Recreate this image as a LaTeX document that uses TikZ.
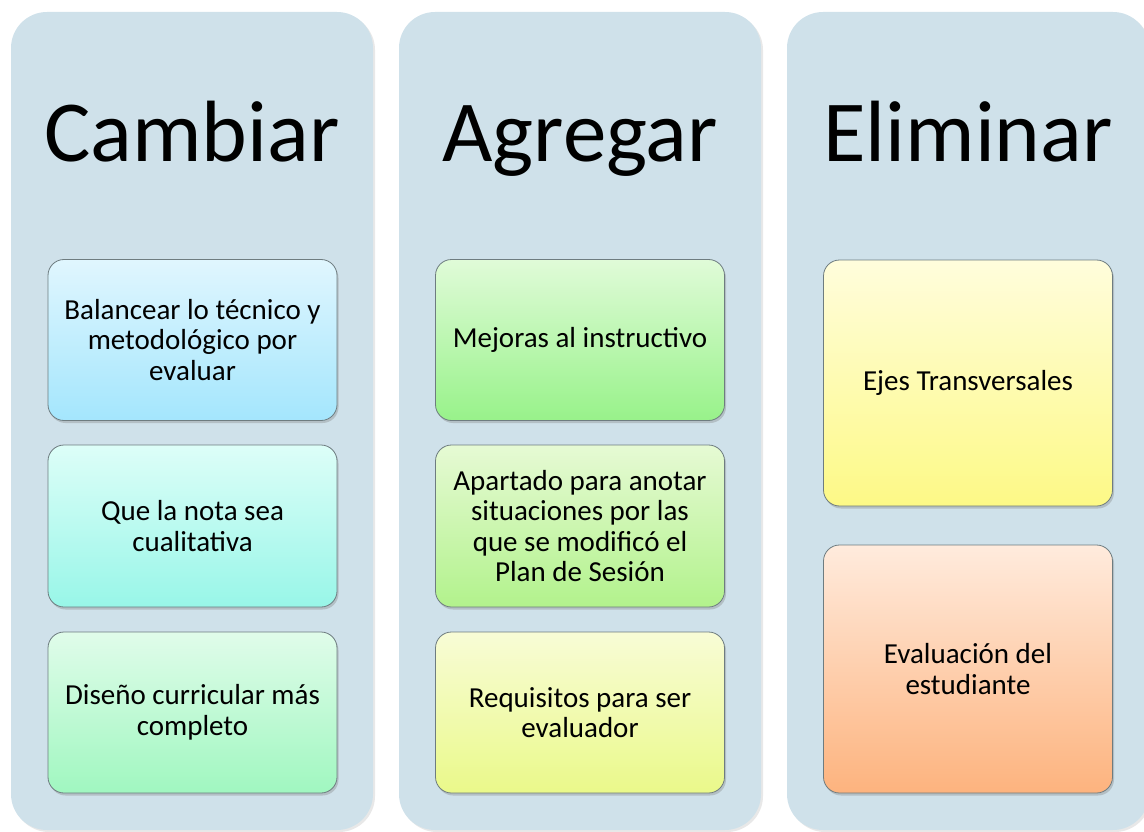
\documentclass[tikz,border=0pt]{standalone}
\usepackage{fontspec}
\setmainfont{Carlito}
\usetikzlibrary{shadows}
\definecolor{panel}{HTML}{CFE1EA}
\definecolor{boxline}{HTML}{6E7C80}
\definecolor{cAt}{HTML}{E0F6FE}\definecolor{cAb}{HTML}{A4E6FD}
\definecolor{cBt}{HTML}{DDFEF8}\definecolor{cBb}{HTML}{98F6E8}
\definecolor{cCt}{HTML}{E0FCEA}\definecolor{cCb}{HTML}{A0F7C0}
\definecolor{aAt}{HTML}{E0FBD8}\definecolor{aAb}{HTML}{98F28A}
\definecolor{aBt}{HTML}{E6FAD4}\definecolor{aBb}{HTML}{B2F28C}
\definecolor{aCt}{HTML}{F8FCD6}\definecolor{aCb}{HTML}{EAF98A}
\definecolor{eAt}{HTML}{FFFDDC}\definecolor{eAb}{HTML}{FDF986}
\definecolor{eBt}{HTML}{FFEBDD}\definecolor{eBb}{HTML}{FDB37E}
\begin{document}
\begin{tikzpicture}[x=1pt,y=-1pt,
  panelbox/.style={fill=panel, rounded corners=36pt, minimum width=362pt,
    minimum height=818pt, inner sep=0pt,
    drop shadow={opacity=0.18, shadow xshift=2pt, shadow yshift=-2pt}},
  itembox/.style={draw=boxline, line width=0.8pt, rounded corners=16pt,
    minimum width=289pt, inner sep=0pt, align=center,
    font=\fontsize{29}{30.5}\selectfont,
    drop shadow={opacity=0.35, shadow xshift=1.5pt, shadow yshift=-2.5pt}},
  head/.style={font=\fontsize{87}{100}\selectfont, anchor=base, inner sep=0pt}]
\useasboundingbox (0,0) rectangle (1144,832);
% panels
\node[panelbox] (pc) at (192,421) {};
\node[panelbox] (pa) at (580,421) {};
\node[panelbox] (pe) at (968,421) {};
% headings
\node[head] (hc) at (192,162) {Cambiar};
\node[head] (ha) at (580,162) {Agregar};
\node[head] (he) at (968,162) {Eliminar};
% Cambiar column
\node[itembox, minimum height=161pt, top color=cAt, bottom color=cAb] (c1) at (192.5,340)
  {Balancear lo técnico y\\metodológico por\\evaluar};
\node[itembox, minimum height=162pt, top color=cBt, bottom color=cBb] (c2) at (192.5,526)
  {Que la nota sea\\cualitativa};
\node[itembox, minimum height=161pt, top color=cCt, bottom color=cCb] (c3) at (192.5,712.5)
  {Diseño curricular más\\completo};
% Agregar column
\node[itembox, minimum height=161pt, top color=aAt, bottom color=aAb] (a1) at (580,340)
  {Mejoras al instructivo};
\node[itembox, minimum height=162pt, top color=aBt, bottom color=aBb] (a2) at (580,526)
  {Apartado para anotar\\situaciones por las\\que se modificó el\\Plan de Sesión};
\node[itembox, minimum height=161pt, top color=aCt, bottom color=aCb] (a3) at (580,712.5)
  {Requisitos para ser\\evaluador};
% Eliminar column
\node[itembox, minimum height=246pt, top color=eAt, bottom color=eAb] (e1) at (968,383)
  {Ejes Transversales};
\node[itembox, minimum height=248pt, top color=eBt, bottom color=eBb] (e2) at (968,669)
  {Evaluación del\\estudiante};
\end{tikzpicture}
\end{document}
